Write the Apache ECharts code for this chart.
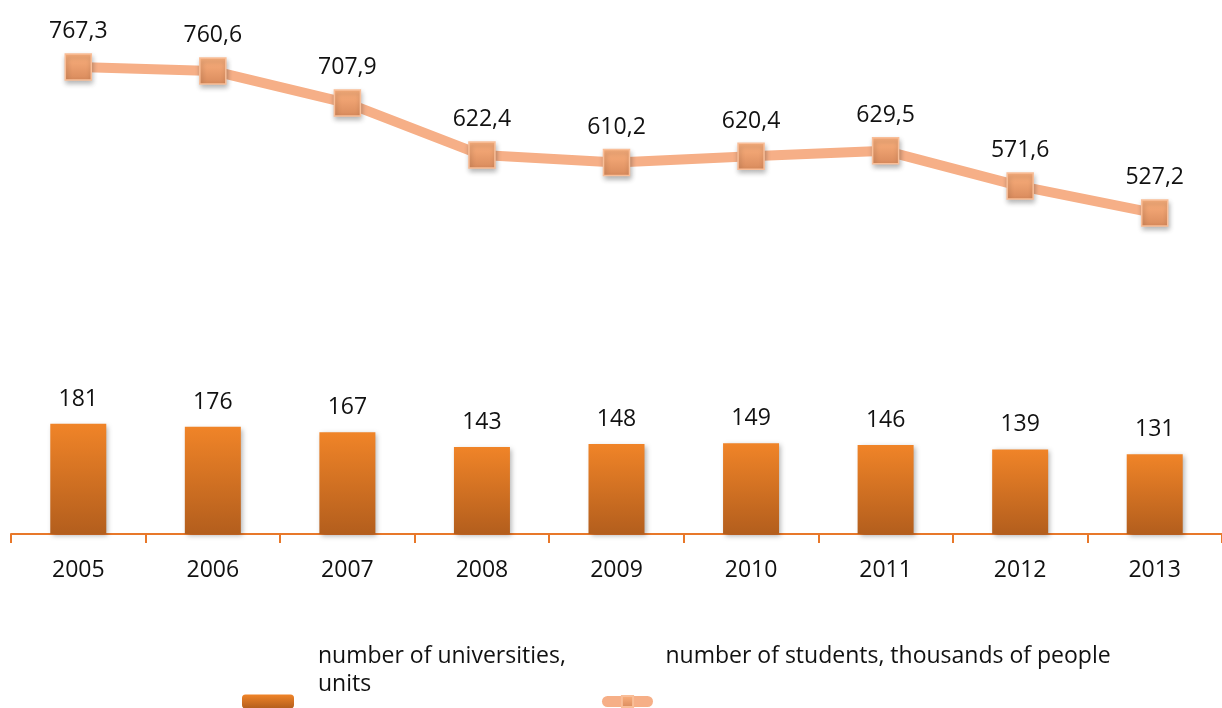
<!DOCTYPE html>
<html>
<head>
<meta charset="utf-8">
<script src="https://cdn.jsdelivr.net/npm/echarts@6/dist/echarts.min.js"></script>
<style>
  html, body { margin: 0; padding: 0; background: #fff; }
  #chart { width: 1222px; height: 708px; }
</style>
</head>
<body>
<div id="chart"></div>
<script>
// Universities and student numbers by year
const years = ['2005', '2006', '2007', '2008', '2009', '2010', '2011', '2012', '2013'];
const universities = [181, 176, 167, 143, 148, 149, 146, 139, 131];
const students = [767.3, 760.6, 707.9, 622.4, 610.2, 620.4, 629.5, 571.6, 527.2];

const FONT = '"Open Sans", "Liberation Sans", sans-serif';
const TEXT = '#111';
const fmtComma = v => String(v.toFixed(1)).replace('.', ',');

const barFill = new echarts.graphic.LinearGradient(0, 0, 0, 1, [
  { offset: 0, color: '#F08428' },
  { offset: 1, color: '#B35E1D' }
]);
const markerFill = new echarts.graphic.LinearGradient(0, 0, 0, 1, [
  { offset: 0, color: '#FDB27F' },
  { offset: 1, color: '#D88A5C' }
]);

const chart = echarts.init(document.getElementById('chart'), null, { renderer: 'canvas' });

// Legend text sits above its swatch: an empty trailing line pushes the text block up
const legendRich = (tail) => ({
  a: { fontFamily: FONT, fontSize: 23, color: TEXT, lineHeight: 28 },
  b: { fontSize: 10, lineHeight: tail }
});

chart.setOption({
  animation: false,
  backgroundColor: '#fff',
  textStyle: { fontFamily: FONT },
  grid: { left: 11, width: 1222, top: 47, height: 487, containLabel: false },
  legend: [
    {
      data: ['number of universities, units'],
      left: 242, top: 645,
      padding: 0,
      itemWidth: 52, itemHeight: 14,
      formatter: () => '{a|number of universities,}\n{a|units}\n{b| }',
      textStyle: {
        fontFamily: FONT, fontSize: 23, color: TEXT,
        padding: [0, 0, 0, 19],
        rich: legendRich(62)
      }
    },
    {
      data: ['number of students, thousands of people'],
      left: 602, top: 645,
      padding: 0,
      itemWidth: 40, itemHeight: 14,
      lineStyle: { width: 11 },
      formatter: name => '{a|' + name + '}\n{b| }',
      textStyle: {
        fontFamily: FONT, fontSize: 23, color: TEXT,
        padding: [0, 0, 0, 13],
        rich: legendRich(90)
      }
    }
  ],
  xAxis: {
    type: 'category',
    data: years,
    boundaryGap: true,
    axisLine: { show: true, lineStyle: { color: '#E8782A', width: 2 } },
    axisTick: { show: true, inside: false, length: 9, lineStyle: { color: '#E8782A', width: 2 } },
    axisLabel: { margin: 25, fontFamily: FONT, fontSize: 23, color: TEXT }
  },
  yAxis: {
    type: 'value',
    min: 0, max: 800,
    show: false,
    splitLine: { show: false }
  },
  series: [
    {
      name: 'number of universities, units',
      type: 'bar',
      data: universities,
      barWidth: 56,
      itemStyle: {
        color: barFill,
        shadowColor: 'rgba(0,0,0,0.3)',
        shadowBlur: 5,
        shadowOffsetX: 2,
        shadowOffsetY: 2
      },
      label: {
        show: true, position: 'top', distance: 13,
        fontFamily: FONT, fontSize: 23, color: TEXT
      }
    },
    {
      name: 'number of students, thousands of people',
      type: 'line',
      data: students,
      symbol: 'rect',
      symbolSize: 26,
      lineStyle: { color: '#F6AF87', width: 10, cap: 'round' },
      itemStyle: {
        color: markerFill,
        borderColor: '#F9BE98',
        borderWidth: 1.5,
        shadowColor: 'rgba(0,0,0,0.3)',
        shadowBlur: 5,
        shadowOffsetX: 1,
        shadowOffsetY: 3
      },
      label: {
        show: true, position: 'top', distance: 10,
        fontFamily: FONT, fontSize: 23, color: TEXT,
        formatter: p => fmtComma(p.value)
      },
      z: 3
    }
  ]
});
</script>
</body>
</html>
